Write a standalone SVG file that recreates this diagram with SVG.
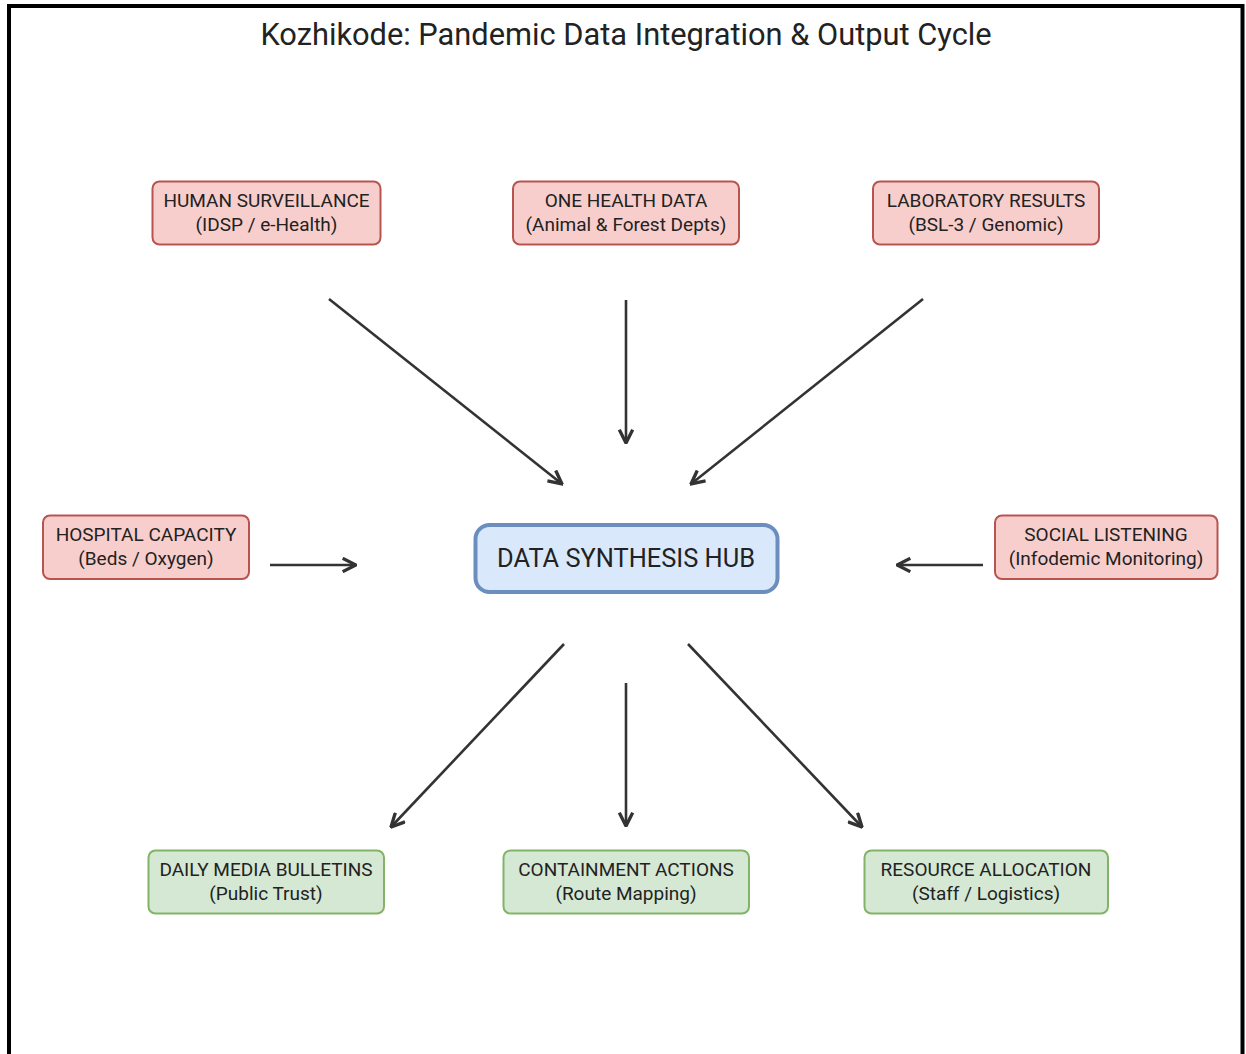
<svg xmlns="http://www.w3.org/2000/svg" width="1246" height="1054" viewBox="0 0 1246 1054">
<style>
.t{font-family:Roboto,"Liberation Sans",sans-serif;fill:#222;text-anchor:middle}
.n{font-size:19px}
.red{fill:#f8cecc;stroke:#b85450;stroke-width:2}
.green{fill:#d5e8d4;stroke:#82b366;stroke-width:2}
.hub{fill:#dae8fc;stroke:#6c8ebf;stroke-width:4}
.c{stroke:#333;stroke-width:2.6;fill:none;marker-end:url(#ah)}
</style>
<defs>
<marker id="ah" markerUnits="userSpaceOnUse" markerWidth="16" markerHeight="16" refX="11" refY="6" orient="auto" viewBox="0 0 12 12">
<path d="M1,1 L11,6 L1,11" fill="none" stroke="#333" stroke-width="2.5"/>
</marker>
</defs>
<rect x="0" y="0" width="1246" height="1054" fill="#fff"/>
<rect x="9" y="6" width="1233.5" height="1100" fill="none" stroke="#000" stroke-width="4"/>
<text class="t" x="626" y="45" font-size="30.8">Kozhikode: Pandemic Data Integration &amp; Output Cycle</text>
<g id="connectors">
<line class="c" x1="329" y1="299" x2="562" y2="484"/>
<line class="c" x1="626" y1="300" x2="626" y2="443"/>
<line class="c" x1="923" y1="299" x2="691" y2="484"/>
<line class="c" x1="270" y1="565" x2="356" y2="565"/>
<line class="c" x1="983" y1="565" x2="897" y2="565"/>
<line class="c" x1="564" y1="644" x2="391" y2="827"/>
<line class="c" x1="626" y1="683" x2="626" y2="826"/>
<line class="c" x1="688" y1="644" x2="862" y2="827"/>
</g>
<g id="human">
<rect class="red" x="152.5" y="181.5" width="228" height="63" rx="7"/>
<text class="t n" x="266.5" y="207">HUMAN SURVEILLANCE</text>
<text class="t n" x="266.5" y="231">(IDSP / e-Health)</text>
</g>
<g id="onehealth">
<rect class="red" x="513" y="181.5" width="226" height="63" rx="7"/>
<text class="t n" x="626" y="207">ONE HEALTH DATA</text>
<text class="t n" x="626" y="231">(Animal &amp; Forest Depts)</text>
</g>
<g id="lab">
<rect class="red" x="873" y="181.5" width="226" height="63" rx="7"/>
<text class="t n" x="986" y="207">LABORATORY RESULTS</text>
<text class="t n" x="986" y="231">(BSL-3 / Genomic)</text>
</g>
<g id="hospital">
<rect class="red" x="43" y="515.5" width="206" height="63.5" rx="7"/>
<text class="t n" x="146" y="541">HOSPITAL CAPACITY</text>
<text class="t n" x="146" y="565">(Beds / Oxygen)</text>
</g>
<g id="social">
<rect class="red" x="995" y="515.5" width="222.5" height="63.5" rx="7"/>
<text class="t n" x="1106" y="541">SOCIAL LISTENING</text>
<text class="t n" x="1106" y="565">(Infodemic Monitoring)</text>
</g>
<g id="hub">
<rect class="hub" x="475.5" y="525" width="302" height="67" rx="14"/>
<text class="t" x="626" y="566.5" font-size="25.4">DATA SYNTHESIS HUB</text>
</g>
<g id="media">
<rect class="green" x="148.5" y="850.5" width="235.5" height="63" rx="7"/>
<text class="t n" x="266" y="876">DAILY MEDIA BULLETINS</text>
<text class="t n" x="266" y="900">(Public Trust)</text>
</g>
<g id="containment">
<rect class="green" x="503.5" y="850.5" width="245.5" height="63" rx="7"/>
<text class="t n" x="626" y="876">CONTAINMENT ACTIONS</text>
<text class="t n" x="626" y="900">(Route Mapping)</text>
</g>
<g id="resource">
<rect class="green" x="864.5" y="850.5" width="243.5" height="63" rx="7"/>
<text class="t n" x="986" y="876">RESOURCE ALLOCATION</text>
<text class="t n" x="986" y="900">(Staff / Logistics)</text>
</g>
</svg>
